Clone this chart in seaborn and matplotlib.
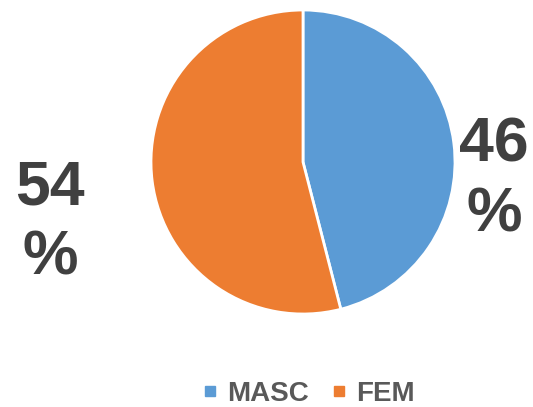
import matplotlib
matplotlib.use("Agg")
import matplotlib.pyplot as plt
import seaborn as sns
from matplotlib.lines import Line2D

categories = ["MASC", "FEM"]
values = [46, 54]
colors = ["#5B9BD5", "#ED7D31"]

sns.set_theme(style="white")
plt.rcParams['font.family'] = ['Liberation Sans', 'DejaVu Sans']

fig = plt.figure(figsize=(5.33, 4.07), dpi=100)
ax = fig.add_axes([151/533, (407-314)/407, 304/533, 304/407])
ax.pie(values, colors=colors, startangle=90, counterclock=False,
       wedgeprops=dict(edgecolor="white", linewidth=2), radius=1)
ax.set_xlim(-1, 1)
ax.set_ylim(-1, 1)
ax.set_aspect("equal")
ax.axis("off")

label_pos = [(494/533, 1 - 180/407), (50/533, 1 - 223/407)]
for v, (x, y) in zip(values, label_pos):
    fig.text(x, y, f"{v}\n%", ha="center", va="center", fontsize=45,
             fontweight="bold", color="#404040", linespacing=1.25)

handles = [Line2D([0], [0], marker="s", linestyle="none", markersize=6.5,
                  markerfacecolor=c, markeredgecolor=c) for c in colors]
leg = fig.legend(handles, categories, loc="center", bbox_to_anchor=(308/533, 1 - 394/407),
                 ncol=2, frameon=False, fontsize=20, handletextpad=0.3,
                 columnspacing=0.8, handlelength=0.6, borderpad=0, borderaxespad=0)
for t in leg.get_texts():
    t.set_color("#595959")
    t.set_fontweight("bold")

fig.savefig("out.png", dpi=100)
